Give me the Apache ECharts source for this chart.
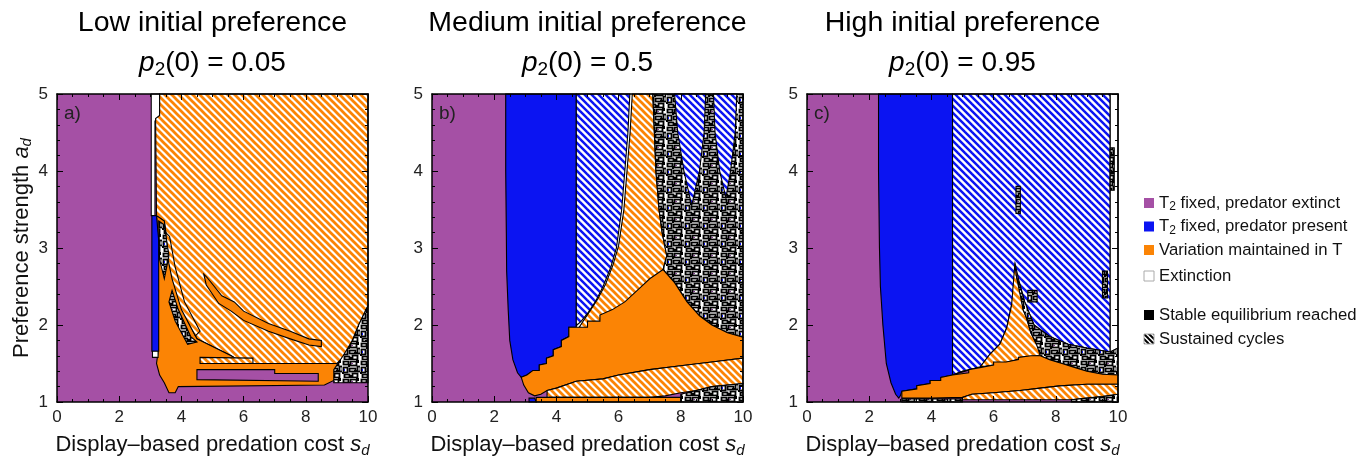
<!DOCTYPE html>
<html>
<head>
<meta charset="utf-8">
<script src="https://cdn.jsdelivr.net/npm/echarts@6/dist/echarts.min.js"></script>
<style>
html, body { margin: 0; padding: 0; background: #fff; }
#main { width: 1372px; height: 463px; }
</style>
</head>
<body>
<div id="main"></div>
<script>
var panelTitles = ['Low initial preference', 'Medium initial preference', 'High initial preference'];
var panelP0 = ['0.05', '0.5', '0.95'];
var panelTags = ['a)', 'b)', 'c)'];
var legendNames = ['{n|T}{s|2}{n| fixed, predator extinct}', '{n|T}{s|2}{n| fixed, predator present}',
  '{n|Variation maintained in T}', '{n|Extinction}', '{n|Stable equilibrium reached}', '{n|Sustained cycles}'];
var legendKinds = ['purple', 'blue', 'orange', 'white', 'black', 'hatchK'];

// region outlines, in (s_d, a_d) data units
var fullBox = [[0, 1], [10, 1], [10, 5], [0, 5]];

// panel a
var aWhiteStrip = [[3.03, 3.42], [3.15, 3.42], [3.15, 4.65], [3.3, 4.7], [3.3, 5], [3.03, 5]];
var aHatchBig = [[3.3, 5], [10, 5], [10, 2.25], [9.7, 2.0], [9.5, 1.8], [9.3, 1.62], [9.0, 1.5], [6.0, 1.5],
  [5.6, 1.6], [5.0, 1.72], [4.5, 1.82], [4.2, 2.05], [3.9, 2.4], [3.7, 2.75], [3.55, 3.05], [3.45, 3.35],
  [3.2, 3.42], [3.17, 4.68], [3.3, 4.72]];
var aOrangeFan = [[3.2, 3.42], [3.45, 3.35], [3.55, 3.05], [3.7, 2.75], [3.9, 2.4], [4.2, 2.05], [4.5, 1.82],
  [5.0, 1.72], [5.6, 1.6], [6.0, 1.5], [9.0, 1.5], [9.1, 1.42], [9.0, 1.3], [8.6, 1.22], [3.9, 1.2], [3.8, 1.12],
  [3.6, 1.12], [3.45, 1.25], [3.3, 1.35], [3.2, 1.5], [3.25, 1.65], [3.25, 3.1]];
var aFanHatch = [[3.5, 3.2], [3.62, 3.15], [3.8, 2.75], [4.1, 2.3], [4.6, 1.92], [4.45, 1.86], [4.0, 2.2], [3.7, 2.6], [3.52, 2.95]];
var aOrangeStrip = [[4.72, 2.66], [4.82, 2.62], [5.3, 2.38], [5.7, 2.3], [6.0, 2.18], [6.8, 2.02], [7.5, 1.92],
  [8.1, 1.82], [8.5, 1.8], [8.5, 1.72], [8.1, 1.74], [7.5, 1.82], [6.8, 1.92], [6.0, 2.06], [5.6, 2.18], [5.2, 2.28], [4.8, 2.52]];
var aHatchThin = [[4.6, 1.5], [6.3, 1.5], [6.3, 1.57], [4.6, 1.58]];
var aPurpleBand = [[4.5, 1.42], [7.0, 1.42], [7.0, 1.37], [8.4, 1.37], [8.4, 1.27], [4.5, 1.29]];
var aBlue = [[3.05, 1.66], [3.05, 3.42], [3.2, 3.42], [3.27, 3.1], [3.27, 1.66]];
var aWhiteBox = [[3.07, 1.58], [3.25, 1.58], [3.25, 1.66], [3.07, 1.66]];
var aNoiseRight = [[8.9, 1.25], [8.9, 1.42], [9.2, 1.6], [9.5, 1.8], [9.7, 2.0], [10, 2.25], [10, 1.25]];
var aNoiseFan = [[3.27, 3.35], [3.45, 3.3], [3.6, 2.9], [3.45, 2.6], [3.3, 2.85]];
var aNoiseFan2 = [[3.7, 2.45], [3.9, 2.2], [4.3, 1.85], [4.5, 1.78], [4.2, 1.75], [3.8, 2.05], [3.6, 2.3]];

// panel b
var bWhiteBase = [[4.6, 5], [7.3, 5], [7.3, 1.9], [4.6, 1.9]];
var bBlue = [[2.37, 5], [4.64, 5], [4.64, 1.97], [4.4, 1.97], [4.4, 1.85], [4.16, 1.8], [4.16, 1.72], [3.9, 1.68],
  [3.9, 1.6], [3.68, 1.57], [3.68, 1.5], [3.45, 1.48], [3.45, 1.41], [3.25, 1.41], [3.05, 1.35], [2.87, 1.32],
  [2.75, 1.38], [2.6, 1.55], [2.5, 1.8], [2.45, 2.2], [2.4, 2.7], [2.39, 3.2], [2.37, 4.0]];
var bBlueDot = [[3.12, 1.0], [3.12, 1.05], [3.3, 1.05], [3.35, 1.0]];
var bHatchBlue = [[4.64, 5], [6.36, 5], [6.3, 4.5], [6.2, 4.0], [6.1, 3.5], [5.93, 3.0], [5.75, 2.75], [5.5, 2.5],
  [5.25, 2.3], [5.0, 2.15], [4.8, 2.05], [4.64, 1.99]];
var bHatchOrange = [[6.44, 5], [7.1, 5], [7.15, 4.5], [7.2, 4.0], [7.3, 3.5], [7.4, 3.2], [7.55, 2.9], [7.43, 2.72],
  [6.5, 2.3], [5.5, 1.95], [4.7, 1.95], [4.86, 2.05], [5.06, 2.17], [5.32, 2.33], [5.58, 2.53], [5.82, 2.78],
  [6.0, 3.03], [6.17, 3.5], [6.27, 4.0], [6.37, 4.5]];
var bNoiseTop = [[7.1, 5], [10, 5], [10, 1.84], [9.5, 1.9], [9.0, 2.0], [8.6, 2.12], [8.2, 2.3], [7.8, 2.55],
  [7.43, 2.72], [7.55, 2.9], [7.4, 3.2], [7.3, 3.5], [7.2, 4.0], [7.15, 4.5]];
var bHatchCol1 = [[7.8, 5], [8.8, 5], [8.75, 4.5], [8.6, 4.0], [8.35, 3.55], [8.1, 4.0], [7.9, 4.5]];
var bHatchCol2 = [[9.05, 5], [9.8, 5], [9.75, 4.5], [9.6, 4.0], [9.45, 3.65], [9.25, 4.0], [9.1, 4.5]];
var bOrange = [[2.87, 1.32], [3.05, 1.35], [3.25, 1.41], [3.45, 1.41], [3.45, 1.48], [3.68, 1.5], [3.68, 1.57],
  [3.9, 1.6], [3.9, 1.68], [4.16, 1.72], [4.16, 1.8], [4.4, 1.85], [4.4, 1.97], [4.64, 1.97], [5.0, 1.97],
  [5.0, 2.05], [5.4, 2.05], [5.4, 2.13], [5.8, 2.2], [6.2, 2.3], [6.6, 2.45], [7.0, 2.6], [7.43, 2.72],
  [7.8, 2.55], [8.2, 2.3], [8.6, 2.12], [9.0, 2.0], [9.5, 1.9], [10, 1.84], [10, 1.57], [9.0, 1.52], [8.0, 1.47],
  [7.0, 1.42], [6.0, 1.35], [5.5, 1.3], [4.64, 1.27], [4.0, 1.18], [3.7, 1.15], [3.5, 1.1], [3.3, 1.08],
  [3.1, 1.12], [2.95, 1.22]];
var bHatchLow = [[3.7, 1.15], [4.0, 1.18], [4.64, 1.27], [5.5, 1.3], [6.0, 1.35], [7.0, 1.42], [8.0, 1.47],
  [9.0, 1.52], [10, 1.57], [10, 1.24], [9.0, 1.2], [8.5, 1.15], [8.0, 1.12], [7.5, 1.08], [7.0, 1.06],
  [5.5, 1.06], [4.5, 1.06], [3.7, 1.06]];
var bOrangeFoot = [[3.35, 1.0], [3.35, 1.06], [8.0, 1.06], [8.0, 1.0]];
var bNoiseLow = [[8.0, 1.0], [8.0, 1.1], [8.5, 1.15], [9.0, 1.2], [10, 1.24], [10, 1.0]];

// panel c
var cBlue = [[2.3, 5], [4.68, 5], [4.68, 1.35], [4.3, 1.32], [4.3, 1.28], [3.96, 1.28], [3.96, 1.24], [3.53, 1.21],
  [3.53, 1.17], [3.05, 1.14], [3.0, 1.08], [2.95, 1.05], [2.85, 1.1], [2.7, 1.25], [2.55, 1.5], [2.44, 2.0],
  [2.36, 2.5], [2.33, 3.0], [2.3, 4.0]];
var cHatchBlue = [[4.68, 5], [9.75, 5], [9.75, 1.65], [9.0, 1.7], [8.4, 1.75], [7.8, 1.85], [7.3, 2.0], [7.0, 2.3],
  [6.8, 2.6], [6.7, 2.78], [6.6, 2.3], [6.42, 1.96], [6.2, 1.75], [5.88, 1.62], [5.56, 1.45], [5.0, 1.4], [4.68, 1.35]];
var cWhiteRight = [[9.75, 5], [10, 5], [10, 1.7], [9.75, 1.65]];
var cHatchSpike = [[4.68, 1.35], [5.0, 1.4], [5.56, 1.45], [5.88, 1.62], [6.2, 1.75], [6.42, 1.96], [6.58, 2.26],
  [6.68, 2.78], [6.75, 2.6], [6.84, 2.52], [6.95, 2.2], [7.06, 2.09], [7.2, 1.9], [7.38, 1.75], [7.7, 1.62],
  [7.0, 1.58], [6.3, 1.5], [5.5, 1.45]];
var cNoiseMid = [[6.75, 2.6], [6.84, 2.52], [7.0, 2.3], [7.3, 2.0], [7.8, 1.85], [8.4, 1.75], [9.0, 1.7],
  [9.75, 1.65], [10, 1.7], [10, 1.35], [9.5, 1.36], [9.0, 1.4], [8.6, 1.45], [8.2, 1.5], [7.8, 1.55], [7.5, 1.6],
  [7.38, 1.75], [7.2, 1.9], [7.06, 2.09], [6.95, 2.2]];
var cOrange = [[3.05, 1.14], [3.53, 1.17], [3.53, 1.21], [3.96, 1.24], [3.96, 1.28], [4.3, 1.28], [4.3, 1.32],
  [4.68, 1.35], [5.2, 1.38], [5.2, 1.42], [5.6, 1.45], [6.0, 1.48], [6.0, 1.52], [6.4, 1.52], [6.8, 1.55],
  [6.8, 1.58], [7.2, 1.6], [7.5, 1.6], [7.8, 1.55], [8.2, 1.5], [8.6, 1.45], [9.0, 1.4], [9.5, 1.36], [10, 1.35],
  [10, 1.23], [9.0, 1.23], [8.13, 1.21], [7.5, 1.18], [6.85, 1.15], [6.0, 1.12], [5.3, 1.1], [5.0, 1.06],
  [4.0, 1.05], [3.05, 1.05]];
var cHatchLow = [[5.0, 1.03], [5.0, 1.06], [5.3, 1.1], [6.0, 1.12], [6.85, 1.15], [7.5, 1.18], [8.13, 1.21],
  [9.0, 1.23], [10, 1.23], [10, 1.1], [9.5, 1.07], [9.0, 1.05], [8.5, 1.03]];
var cNoiseFoot = [[3.05, 1.0], [3.05, 1.04], [5.0, 1.04], [5.0, 1.0]];
var cNoiseCorner = [[8.5, 1.0], [8.5, 1.03], [9.0, 1.05], [9.5, 1.07], [10, 1.1], [10, 1.0]];
var cSpeck1 = [[6.72, 3.45], [6.86, 3.45], [6.86, 3.8], [6.72, 3.8]];
var cSpeck2 = [[9.5, 2.35], [9.66, 2.35], [9.66, 2.7], [9.5, 2.7]];
var cSpeck3 = [[9.75, 3.75], [9.88, 3.75], [9.88, 4.3], [9.75, 4.3]];
var cSpeck4 = [[7.1, 2.3], [7.4, 2.3], [7.4, 2.45], [7.1, 2.45]];

var panelRegions = [
  [[fullBox, 'bg'], [aWhiteStrip, 'white'], [aHatchBig, 'hatchO'], [aOrangeFan, 'orange'], [aFanHatch, 'hatchO'],
   [aOrangeStrip, 'orange'], [aHatchThin, 'hatchO'], [aPurpleBand, 'purple'], [aBlue, 'blue'], [aWhiteBox, 'white'],
   [aNoiseRight, 'noise'], [aNoiseFan, 'noise'], [aNoiseFan2, 'noise']],
  [[fullBox, 'bg'], [bWhiteBase, 'whiteBase'], [bBlue, 'blue'], [bBlueDot, 'blue'], [bHatchBlue, 'hatchB'],
   [bHatchOrange, 'hatchO'], [bNoiseTop, 'noise'], [bHatchCol1, 'hatchB'], [bHatchCol2, 'hatchB'],
   [bOrange, 'orange'], [bHatchLow, 'hatchO'], [bOrangeFoot, 'orange'], [bNoiseLow, 'noise']],
  [[fullBox, 'bg'], [cBlue, 'blue'], [cHatchBlue, 'hatchB'], [cWhiteRight, 'white'], [cHatchSpike, 'hatchO'],
   [cNoiseMid, 'noise'], [cOrange, 'orange'], [cHatchLow, 'hatchO'], [cNoiseFoot, 'noise'], [cNoiseCorner, 'noise'],
   [cSpeck1, 'noise'], [cSpeck2, 'noise'], [cSpeck3, 'noise'], [cSpeck4, 'noise']]
];

var PURPLE = '#a550a5', BLUE = '#0b14f2', ORANGE = '#fb8405';
var FONT = '"Liberation Sans", Arial, sans-serif';

function makeHatch(color, n, w) {
  var c = document.createElement('canvas');
  c.width = n; c.height = n;
  var ctx = c.getContext('2d');
  ctx.fillStyle = '#fff';
  ctx.fillRect(0, 0, n, n);
  ctx.strokeStyle = color;
  ctx.lineWidth = w;
  for (var k = -1; k <= 1; k++) {
    ctx.beginPath();
    ctx.moveTo(k * n - 1, -1);
    ctx.lineTo(k * n + n + 1, n + 1);
    ctx.stroke();
  }
  return { image: c, repeat: 'repeat' };
}

// jumbled black/white texture for the irregular zones
function makeNoise() {
  var c = document.createElement('canvas');
  c.width = 18; c.height = 18;
  var ctx = c.getContext('2d');
  ctx.fillStyle = '#fff';
  ctx.fillRect(0, 0, 18, 18);
  ctx.strokeStyle = '#000';
  ctx.lineWidth = 1.8;
  var boxes = [[1, 1, 5, 3], [8, 1, 6, 4], [1, 7, 4, 5], [7, 8, 6, 3], [2, 14, 5, 3], [10, 13, 5, 4], [15, 6, 3, 5]];
  boxes.forEach(function (b) { ctx.strokeRect(b[0] + 0.5, b[1] + 0.5, b[2], b[3]); });
  ctx.fillStyle = '#000';
  [[6, 4, 2, 3], [14, 0, 3, 3], [0, 12, 2, 2], [8, 15, 2, 3], [12, 10, 3, 2]].forEach(function (b) {
    ctx.fillRect(b[0], b[1], b[2], b[3]);
  });
  ctx.fillStyle = '#7a3c86';
  ctx.fillRect(9, 3, 2, 1);
  ctx.fillStyle = BLUE;
  ctx.fillRect(2, 9, 1, 2);
  return { image: c, repeat: 'repeat' };
}

var fills = {
  bg: PURPLE, purple: PURPLE, blue: BLUE, orange: ORANGE, white: '#fff', whiteBase: '#fff',
  hatchO: makeHatch(ORANGE, 7, 2.7), hatchB: makeHatch(BLUE, 7, 2.5), noise: makeNoise(),
  black: '#000', hatchK: makeHatch('#000', 5, 2)
};

var gridLeft = [57, 432, 807];
var grids = [], xAxes = [], yAxes = [], series = [], graphics = [];

function regionSeries(p, pts, kind, order) {
  return {
    type: 'custom', xAxisIndex: p, yAxisIndex: p, silent: true, z: 2,
    data: [pts[0]],
    renderItem: function (params, api) {
      var pix = pts.map(function (q) { return api.coord(q); });
      var bare = kind === 'bg' || kind === 'whiteBase';
      return {
        type: 'polygon', z2: order,
        shape: { points: pix },
        style: { fill: fills[kind], stroke: bare ? null : '#000', lineWidth: 1.1 }
      };
    }
  };
}

var nameRich = {
  n: { fontSize: 22, fontFamily: FONT, color: '#111', lineHeight: 26 },
  i: { fontSize: 22, fontFamily: FONT, fontStyle: 'italic', color: '#111', lineHeight: 26 },
  s: { fontSize: 15, fontFamily: FONT, fontStyle: 'italic', color: '#111', verticalAlign: 'bottom' }
};

for (var p = 0; p < 3; p++) {
  grids.push({ left: gridLeft[p], top: 94, width: 311, height: 311, show: false });
  var tick = { inside: true, length: 6, lineStyle: { color: '#000', width: 1 } };
  var line = { show: true, onZero: false, lineStyle: { color: '#000', width: 1.5 } };
  xAxes[p] = {
    gridIndex: p, type: 'value', min: 0, max: 10, interval: 2, z: 10,
    axisLine: line, axisTick: tick,
    minorTick: { show: true, splitNumber: 4, length: 3, lineStyle: { color: '#000' } },
    axisLabel: { color: '#222', fontSize: 17, fontFamily: FONT, margin: 7 },
    splitLine: { show: false },
    name: '{n|Display\u2013based predation cost }{i|s}{s|d}', nameLocation: 'middle', nameGap: 30,
    nameTextStyle: { rich: nameRich }
  };
  xAxes[p + 3] = {
    gridIndex: p, type: 'value', min: 0, max: 10, interval: 2, position: 'top', z: 10,
    axisLine: line, axisTick: tick,
    minorTick: { show: true, splitNumber: 4, length: 3, lineStyle: { color: '#000' } },
    axisLabel: { show: false }, splitLine: { show: false }
  };
  yAxes[p] = {
    gridIndex: p, type: 'value', min: 1, max: 5, interval: 1, z: 10,
    axisLine: line, axisTick: tick,
    minorTick: { show: true, splitNumber: 5, length: 3, lineStyle: { color: '#000' } },
    axisLabel: { color: '#222', fontSize: 17, fontFamily: FONT, margin: 9 },
    splitLine: { show: false }
  };
  if (p === 0) {
    yAxes[p].name = '{n|Preference strength }{i|a}{s|d}';
    yAxes[p].nameLocation = 'middle';
    yAxes[p].nameGap = 21;
    yAxes[p].nameTextStyle = { rich: nameRich };
  }
  yAxes[p + 3] = {
    gridIndex: p, type: 'value', min: 1, max: 5, interval: 1, position: 'right', z: 10,
    axisLine: line, axisTick: tick,
    minorTick: { show: true, splitNumber: 5, length: 3, lineStyle: { color: '#000' } },
    axisLabel: { show: false }, splitLine: { show: false }
  };

  panelRegions[p].forEach(function (r, i) {
    series.push(regionSeries(p, r[0], r[1], i));
  });

  var cx = gridLeft[p] + 155.5;
  graphics.push({
    type: 'text', x: cx, y: 23, z: 20,
    style: { text: panelTitles[p], font: '28.5px ' + FONT, fill: '#000', align: 'center', verticalAlign: 'middle' }
  });
  graphics.push({
    type: 'text', x: cx, y: 63, z: 20,
    style: {
      text: '{i|p}{s|2}{n|(0) = ' + panelP0[p] + '}', align: 'center', verticalAlign: 'middle',
      rich: {
        i: { fontSize: 28, fontFamily: FONT, fontStyle: 'italic', fill: '#000', lineHeight: 32 },
        s: { fontSize: 19, fontFamily: FONT, fill: '#000', verticalAlign: 'bottom' },
        n: { fontSize: 28, fontFamily: FONT, fill: '#000', lineHeight: 32 }
      }
    }
  });
  graphics.push({
    type: 'text', x: gridLeft[p] + 7, y: 114, z: 20,
    style: { text: panelTags[p], font: '19px ' + FONT, fill: '#222', verticalAlign: 'middle' }
  });
}

var legendY = [203, 226.5, 250, 276, 315, 339];
legendNames.forEach(function (name, i) {
  var k = legendKinds[i];
  graphics.push({
    type: 'rect', x: 1144, y: legendY[i] - 5, z: 20,
    shape: { width: 10, height: 10 },
    style: { fill: fills[k], stroke: k === 'white' || k === 'hatchK' ? '#aaa' : null, lineWidth: 1 }
  });
  graphics.push({
    type: 'text', x: 1159, y: legendY[i], z: 20,
    style: {
      text: name, verticalAlign: 'middle',
      rich: {
        n: { fontSize: 16.7, fontFamily: FONT, fill: '#111', lineHeight: 20 },
        s: { fontSize: 12, fontFamily: FONT, fill: '#111', verticalAlign: 'bottom' }
      }
    }
  });
});

var myChart = echarts.init(document.getElementById('main'));
myChart.setOption({
  backgroundColor: '#fff',
  animation: false,
  grid: grids,
  xAxis: xAxes,
  yAxis: yAxes,
  series: series,
  graphic: graphics
});
</script>
</body>
</html>
